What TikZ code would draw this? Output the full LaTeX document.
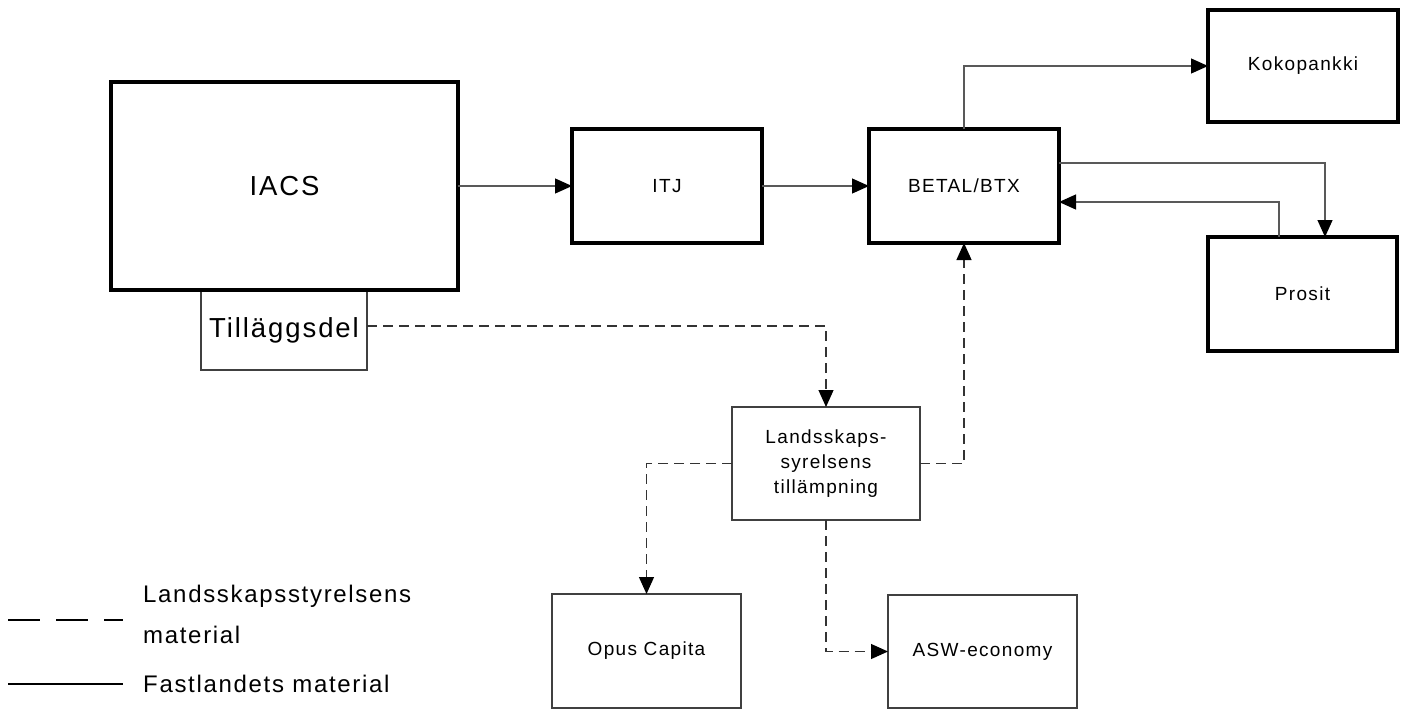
\documentclass[tikz,border=0pt]{standalone}
\usepackage{fontspec}
\setmainfont{Liberation Sans}[LetterSpace=7]
\usetikzlibrary{arrows.meta}
\begin{document}
\begin{tikzpicture}[x=1pt,y=-1pt,
  boxthick/.style={draw=black, line width=3.5pt, fill=white, inner sep=0pt, outer sep=0pt,
    align=center, font=\fontsize{19}{25}\selectfont},
  boxthin/.style={draw=black!75, line width=1.3pt, fill=white, inner sep=0pt, outer sep=0pt,
    align=center, font=\fontsize{19}{25}\selectfont},
  bigtext/.style={font=\fontsize{27.5}{33}\selectfont},
  conn/.style={draw=black!65, line width=1.2pt,
    -{Triangle[length=17pt,width=15pt,color=black]}},
  dconn/.style={conn, draw=black!80, dash pattern=on 10pt off 6pt},
  legtext/.style={anchor=base west, inner sep=0pt, align=left, font=\fontsize{24}{41}\selectfont}
]
\useasboundingbox (0,0) rectangle (1410,710);

% boxes
\node[boxthin, bigtext, minimum width=166pt, minimum height=80pt] (till) at (284,330) {Tilläggsdel};
\node[boxthick, bigtext, minimum width=347pt, minimum height=208pt] (iacs) at (284.5,186) {IACS};
\node[boxthick, minimum width=190pt, minimum height=114pt] (itj) at (667,186) {ITJ};
\node[boxthick, minimum width=190pt, minimum height=114pt] (betal) at (964,186) {BETAL/BTX};
\node[boxthick, minimum width=190pt, minimum height=112pt] (koko) at (1303,66) {Kokopankki};
\node[boxthick, minimum width=189pt, minimum height=114pt] (prosit) at (1302.5,294) {Prosit};
\node[boxthin, minimum width=188pt, minimum height=113pt] (land) at (826,463.5) {Landsskaps-\\syrelsens\\tillämpning};
\node[boxthin, minimum width=189pt, minimum height=114pt] (opus) at (646.5,651) {Opus Capita};
\node[boxthin, minimum width=189pt, minimum height=113pt] (asw) at (982.5,651.5) {ASW-economy};

% solid connectors
\draw[conn] (iacs.east) -- (itj.west);
\draw[conn] (itj.east) -- (betal.west);
\draw[conn] (betal.north) |- (koko.west);
\draw[conn] ([yshift=23pt]betal.east) -| ([xshift=22.5pt]prosit.north);
\draw[conn] ([xshift=-23.5pt]prosit.north) |- ([yshift=-16pt]betal.east);

% dashed connectors
\draw[dconn] ([yshift=4pt]till.east) -| (land.north);
\draw[dconn] (land.east) -| (betal.south);
\draw[dconn] (land.west) -| (opus.north);
\draw[dconn] (land.south) |- (asw.west);

% legend
\coordinate (ld1) at (8,620);
\coordinate (ld2) at (123,620);
\coordinate (ls1) at (8,684);
\coordinate (ls2) at (123,684);
\draw[black, line width=1.5pt, dash pattern=on 32pt off 16pt] (ld1) -- (ld2);
\draw[black, line width=1.5pt] (ls1) -- (ls2);
\node[legtext] (legd) at (143,643) {Landsskapsstyrelsens\\material};
\node[legtext] (legs) at (143,692) {Fastlandets material};
\end{tikzpicture}
\end{document}
